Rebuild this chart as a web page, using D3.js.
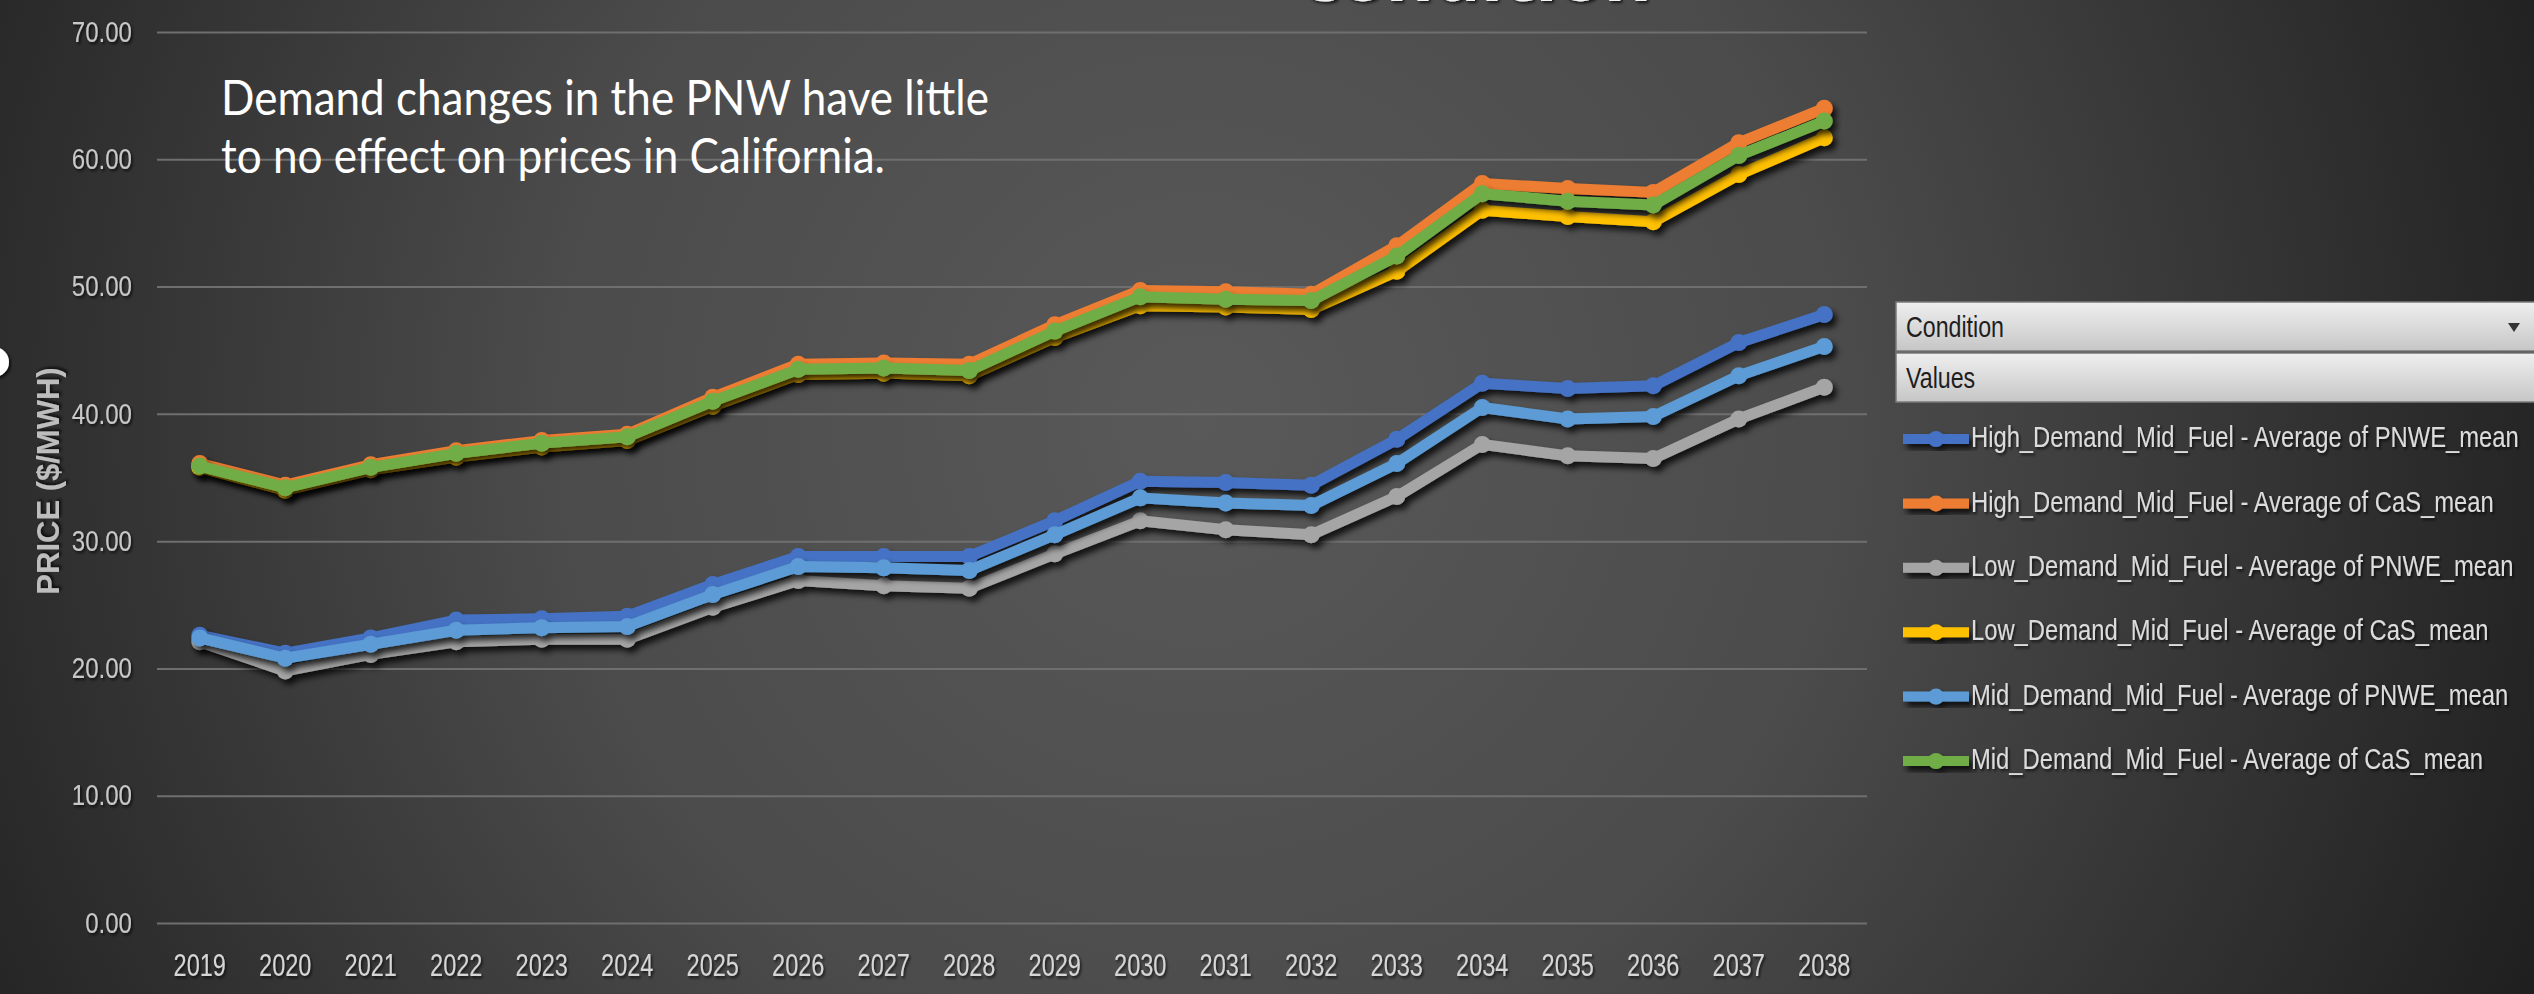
<!DOCTYPE html>
<html>
<head>
<meta charset="utf-8">
<script src="https://cdn.jsdelivr.net/npm/d3@7"></script>
<style>
  html, body { margin: 0; padding: 0; background: #2a2a2a; overflow: hidden; }
  svg { display: block; }
</style>
</head>
<body>
<div id="chart"></div>
<script>
const years = ["2019", "2020", "2021", "2022", "2023", "2024", "2025", "2026", "2027", "2028",
    "2029", "2030", "2031", "2032", "2033", "2034", "2035", "2036", "2037", "2038"];

const highPNWE = [22.6, 21.2, 22.4, 23.8, 23.9, 24.1, 26.6, 28.8, 28.8, 28.8, 31.6, 34.7, 34.6, 34.4, 38.0, 42.4, 42.0, 42.2, 45.6, 47.8];
const highCaS  = [36.1, 34.4, 36.0, 37.1, 37.9, 38.4, 41.3, 43.9, 44.0, 43.9, 47.0, 49.7, 49.6, 49.4, 53.2, 58.1, 57.7, 57.4, 61.3, 64.0];
const lowPNWE  = [22.1, 19.8, 21.1, 22.1, 22.3, 22.3, 24.8, 26.9, 26.5, 26.3, 29.0, 31.6, 30.9, 30.5, 33.5, 37.6, 36.7, 36.5, 39.6, 42.1];
const lowCaS   = [35.8, 34.0, 35.6, 36.6, 37.4, 37.9, 40.6, 43.1, 43.2, 43.0, 46.0, 48.5, 48.4, 48.2, 51.2, 56.0, 55.5, 55.1, 58.8, 61.7];
const midPNWE  = [22.4, 20.8, 21.9, 23.0, 23.2, 23.3, 25.8, 28.0, 27.9, 27.7, 30.5, 33.4, 33.0, 32.8, 36.1, 40.5, 39.6, 39.8, 43.0, 45.3];
const midCaS   = [35.9, 34.2, 35.8, 36.9, 37.7, 38.2, 41.0, 43.5, 43.6, 43.4, 46.5, 49.2, 49.0, 48.9, 52.4, 57.3, 56.7, 56.4, 60.3, 63.0];

const seriesNames = [
    "High_Demand_Mid_Fuel - Average of PNWE_mean",
    "High_Demand_Mid_Fuel - Average of CaS_mean",
    "Low_Demand_Mid_Fuel - Average of PNWE_mean",
    "Low_Demand_Mid_Fuel - Average of CaS_mean",
    "Mid_Demand_Mid_Fuel - Average of PNWE_mean",
    "Mid_Demand_Mid_Fuel - Average of CaS_mean"
];
const seriesValues = [highPNWE, highCaS, lowPNWE, lowCaS, midPNWE, midCaS];
const seriesColors = ["#4472C4", "#ED7D31", "#A5A5A5", "#FFC000", "#5B9BD5", "#70AD47"];

const yTicks = [0, 10, 20, 30, 40, 50, 60, 70];
const yTitle = "PRICE ($/MWH)";
const noteLines = ["Demand changes in the PNW have little", "to no effect on prices in California."];

const W = 2534, H = 994;
const plot = { left: 157, right: 1867, top: 32, bottom: 923 };
const FONT = "'Liberation Sans', Arial, sans-serif";

// squeeze text horizontally around its own x (no narrow font installed)
function squeeze(sel, k) {
    sel.each(function () {
        const t = d3.select(this);
        const x0 = +t.attr("x") || 0;
        t.attr("x", 0).attr("transform", `translate(${x0},0) scale(${k},1)`);
    });
}

const svg = d3.select("#chart")
    .append("svg")
    .attr("width", W)
    .attr("height", H);

const defs = svg.append("defs");

// slide background
const bg = defs.append("radialGradient")
    .attr("id", "bg")
    .attr("gradientUnits", "userSpaceOnUse")
    .attr("cx", 1200).attr("cy", 420).attr("r", 1450);
bg.append("stop").attr("offset", "0%").attr("stop-color", "#595959");
bg.append("stop").attr("offset", "45%").attr("stop-color", "#4b4b4b");
bg.append("stop").attr("offset", "100%").attr("stop-color", "#1f1f1f");

const btn = defs.append("linearGradient")
    .attr("id", "btn")
    .attr("x1", "0%").attr("y1", "0%").attr("x2", "0%").attr("y2", "100%");
btn.append("stop").attr("offset", "0%").attr("stop-color", "#efefef");
btn.append("stop").attr("offset", "100%").attr("stop-color", "#c6c6c6");

defs.append("filter").attr("id", "lineShadow")
    .attr("x", "-10%").attr("y", "-10%").attr("width", "120%").attr("height", "130%")
    .append("feDropShadow")
    .attr("dx", 4).attr("dy", 5).attr("stdDeviation", 3)
    .attr("flood-color", "#000").attr("flood-opacity", 0.8);

defs.append("filter").attr("id", "textShadow")
    .attr("x", "-10%").attr("y", "-30%").attr("width", "120%").attr("height", "160%")
    .append("feDropShadow")
    .attr("dx", 2).attr("dy", 2).attr("stdDeviation", 1.5)
    .attr("flood-color", "#000").attr("flood-opacity", 0.7);

svg.append("rect")
    .attr("width", W)
    .attr("height", H)
    .attr("fill", "url(#bg)");

// bottom of the slide title, mostly off the top edge
svg.append("text")
    .attr("x", 1302)
    .attr("y", 1)
    .attr("textLength", 350)
    .attr("lengthAdjust", "spacingAndGlyphs")
    .attr("filter", "url(#textShadow)")
    .style("font-family", "'Open Sans', sans-serif")
    .style("font-weight", 700)
    .style("font-size", "62px")
    .style("fill", "#f2f2f2")
    .text("condition");

// white bullet cut by the left edge
svg.append("circle")
    .attr("cx", -6)
    .attr("cy", 362)
    .attr("r", 15)
    .attr("fill", "#ffffff")
    .attr("filter", "url(#textShadow)");

const x = d3.scaleBand().domain(years).range([plot.left, plot.right]).padding(0);
const y = d3.scaleLinear().domain([0, 70]).range([plot.bottom, plot.top]);
const cx = d => x(d) + x.bandwidth() / 2;

// Y axis with gridlines
const yAxis = svg.append("g")
    .attr("transform", `translate(${plot.left},0)`)
    .call(d3.axisLeft(y)
        .tickValues(yTicks)
        .tickFormat(d3.format(".2f"))
        .tickSize(-(plot.right - plot.left))
        .tickPadding(25));
yAxis.select(".domain").remove();
yAxis.selectAll("line")
    .attr("stroke", "#6f6f6f")
    .attr("stroke-width", 2);
yAxis.selectAll("text")
    .attr("filter", "url(#textShadow)")
    .style("font-family", FONT)
    .style("font-size", "29px")
    .style("fill", "#c8c8c8")
    .call(squeeze, 0.83);

// X axis labels
const xAxis = svg.append("g")
    .attr("transform", `translate(0,${plot.bottom})`)
    .call(d3.axisBottom(x).tickSize(0).tickPadding(31));
xAxis.select(".domain").remove();
xAxis.selectAll("text")
    .attr("filter", "url(#textShadow)")
    .style("font-family", FONT)
    .style("font-size", "31px")
    .style("fill", "#d6d6d6")
    .call(squeeze, 0.76);

// Y axis title
svg.append("text")
    .attr("transform", "translate(59,481) rotate(-90)")
    .attr("text-anchor", "middle")
    .attr("filter", "url(#textShadow)")
    .style("font-family", FONT)
    .style("font-weight", 700)
    .style("font-size", "31px")
    .style("fill", "#bdbdbd")
    .text(yTitle);

// Series lines and markers
const line = d3.line()
    .x((d, i) => cx(years[i]))
    .y(d => y(d));

seriesValues.forEach((vals, k) => {
    const g = svg.append("g").attr("filter", "url(#lineShadow)");
    g.append("path")
        .datum(vals)
        .attr("d", line)
        .attr("fill", "none")
        .attr("stroke", seriesColors[k])
        .attr("stroke-width", 11)
        .attr("stroke-linejoin", "round");
    g.selectAll("circle")
        .data(vals)
        .join("circle")
        .attr("cx", (d, i) => cx(years[i]))
        .attr("cy", d => y(d))
        .attr("r", 8.5)
        .attr("fill", seriesColors[k]);
});

// annotation
svg.selectAll(".note")
    .data(noteLines)
    .join("text")
    .attr("class", "note")
    .attr("x", 221)
    .attr("y", (d, i) => 115 + i * 58)
    .attr("textLength", (d, i) => i === 0 ? 768 : 664)
    .attr("lengthAdjust", "spacingAndGlyphs")
    .style("font-family", "Lato, 'Open Sans', sans-serif")
    .style("font-size", "48px")
    .style("fill", "#ffffff")
    .text(d => d);

// Legend: pivot field buttons
const legendX = 1896;
const buttons = [{ label: "Condition", y: 302, arrow: true }, { label: "Values", y: 353, arrow: false }];
buttons.forEach(b => {
    svg.append("rect")
        .attr("x", legendX)
        .attr("y", b.y)
        .attr("width", W - legendX + 2)
        .attr("height", 49)
        .attr("fill", "url(#btn)")
        .attr("stroke", "#7a7a7a")
        .attr("stroke-width", 1.5);
    svg.append("text")
        .attr("x", legendX + 10)
        .attr("y", b.y + 25)
        .attr("dy", "0.35em")
        .style("font-family", FONT)
        .style("font-size", "29px")
        .style("fill", "#1e1e1e")
        .text(b.label)
        .call(squeeze, 0.8);
    if (b.arrow) {
        svg.append("path")
            .attr("d", `M${2508},${b.y + 21} l12,0 l-6,9 z`)
            .attr("fill", "#333");
    }
});

// Legend entries
const legend = svg.append("g");
const items = legend.selectAll("g")
    .data(seriesNames)
    .join("g")
    .attr("transform", (d, i) => `translate(${legendX + 7},${437 + i * 64.4})`);
items.append("g")
    .attr("filter", "url(#lineShadow)")
    .each(function (d, i) {
        const g = d3.select(this);
        g.append("line")
            .attr("x1", 0).attr("x2", 66)
            .attr("y1", 2).attr("y2", 2)
            .attr("stroke", seriesColors[i])
            .attr("stroke-width", 10);
        g.append("circle")
            .attr("cx", 33).attr("cy", 2).attr("r", 8)
            .attr("fill", seriesColors[i]);
    });
items.append("text")
    .attr("x", 68)
    .attr("dy", "0.35em")
    .attr("filter", "url(#textShadow)")
    .style("font-family", FONT)
    .style("font-size", "29px")
    .style("fill", "#dcdcdc")
    .text(d => d)
    .call(squeeze, 0.82);
</script>
</body>
</html>
